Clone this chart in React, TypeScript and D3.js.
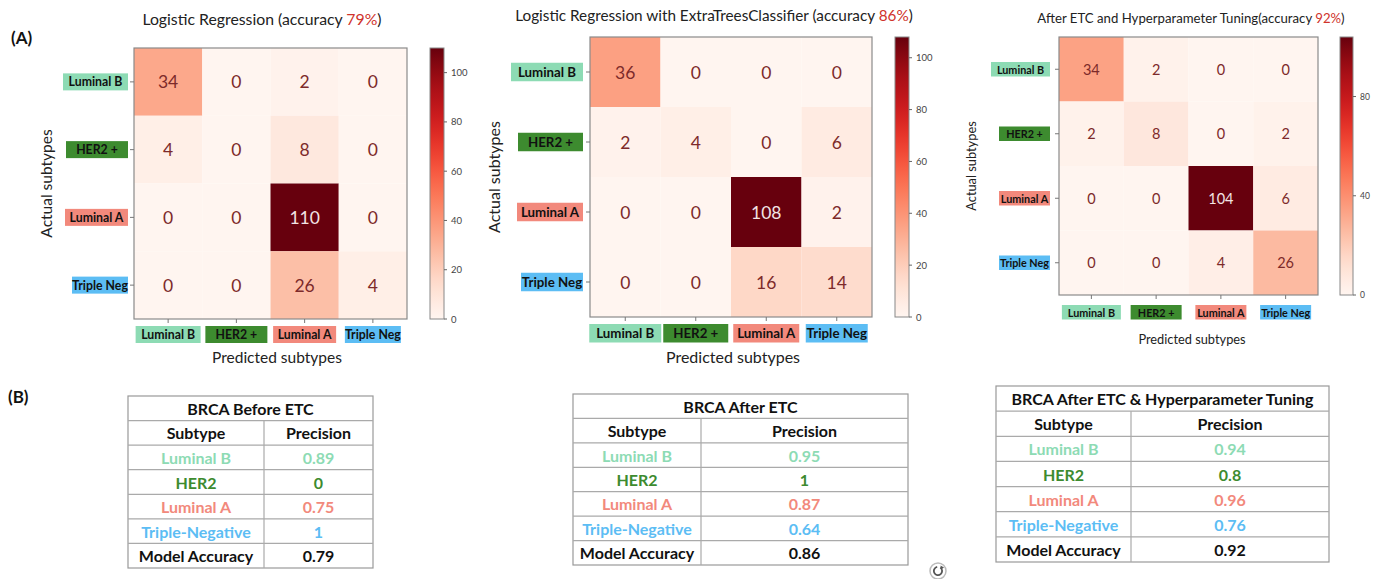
import React from "react";
import * as d3 from "d3";

// ---------- data ----------
const subtypes = ["Luminal B", "HER2 +", "Luminal A", "Triple Neg"];
const subtypeColors = ["#8ddbb4", "#3d8b2f", "#f2897c", "#5cbdf4"];

const matrixBefore = [
  [34, 0, 2, 0],
  [4, 0, 8, 0],
  [0, 0, 110, 0],
  [0, 0, 26, 4],
];
const matrixAfter = [
  [36, 0, 0, 0],
  [2, 4, 0, 6],
  [0, 0, 108, 2],
  [0, 0, 16, 14],
];
const matrixTuned = [
  [34, 2, 0, 0],
  [2, 8, 0, 2],
  [0, 0, 104, 6],
  [0, 0, 4, 26],
];

const titlePrefixes = [
  "Logistic Regression (accuracy ",
  "Logistic Regression with ExtraTreesClassifier (accuracy ",
  "After ETC and Hyperparameter Tuning(accuracy ",
];
const accuracyPercents = ["79%", "86%", "92%"];
const colorMaxima = [110, 108, 104];
const colorTicksBefore = [0, 20, 40, 60, 80, 100];
const colorTicksAfter = [0, 20, 40, 60, 80, 100];
const colorTicksTuned = [0, 40, 80];

const tableTitles = ["BRCA Before ETC", "BRCA After ETC", "BRCA After ETC & Hyperparameter Tuning"];
const tableHeaders = ["Subtype", "Precision"];
const tableSubtypes = ["Luminal B", "HER2", "Luminal A", "Triple-Negative"];
const precisionBefore = ["0.89", "0", "0.75", "1"];
const precisionAfter = ["0.95", "1", "0.87", "0.64"];
const precisionTuned = ["0.94", "0.8", "0.96", "0.76"];
const accuracyLabel = "Model Accuracy";
const modelAccuracy = ["0.79", "0.86", "0.92"];

// ---------- layout ----------
const FONT = "Lato, 'Open Sans', sans-serif";

const panels = [
  {
    matrix: matrixBefore, vmax: colorMaxima[0], ticks: colorTicksBefore,
    x: 134, y: 48, w: 273, h: 271, cbX: 430, cbW: 14,
    titleX: 262, titleY: 25, titleSize: 15.8,
    cellFont: 17.5, tickFont: 9.5,
    badgeW: [65, 62, 63, 56], badgeH: 17, badgeFont: 12.3,
    rowBadgeRight: 128, colBadgeTop: 326,
    xLabelX: 277, xLabelY: 363, yLabelX: 52, axisFont: 15.5,
  },
  {
    matrix: matrixAfter, vmax: colorMaxima[1], ticks: colorTicksAfter,
    x: 590, y: 37, w: 282, h: 280, cbX: 895, cbW: 14,
    titleX: 714, titleY: 21, titleSize: 15.3,
    cellFont: 17.5, tickFont: 9.5,
    badgeW: [72, 65, 66, 62], badgeH: 18.5, badgeFont: 13.3,
    rowBadgeRight: 583, colBadgeTop: 324,
    xLabelX: 733, xLabelY: 363, yLabelX: 500, axisFont: 16,
  },
  {
    matrix: matrixTuned, vmax: colorMaxima[2], ticks: colorTicksTuned,
    x: 1059, y: 37, w: 259, h: 258, cbX: 1340, cbW: 13,
    titleX: 1191, titleY: 23, titleSize: 13.2,
    cellFont: 14.5, tickFont: 8.5,
    badgeW: [59, 51, 51, 51], badgeH: 14.5, badgeFont: 10.8,
    rowBadgeRight: 1050, colBadgeTop: 305,
    xLabelX: 1192, xLabelY: 344, yLabelX: 976, axisFont: 12.8,
  },
];

const tables = [
  { left: 128, right: 373, divider: 264, top: 396, bottom: 568, font: 16, values: precisionBefore, acc: modelAccuracy[0], title: tableTitles[0] },
  { left: 573, right: 908, divider: 701, top: 394, bottom: 565, font: 16, values: precisionAfter, acc: modelAccuracy[1], title: tableTitles[1] },
  { left: 996, right: 1329, divider: 1131, top: 386, bottom: 562, font: 16, values: precisionTuned, acc: modelAccuracy[2], title: tableTitles[2] },
];

function Heatmap({ p, idx }: { p: any; idx: number }) {
  const xs = d3.scaleBand<number>().domain(d3.range(4)).range([p.x, p.x + p.w]);
  const ys = d3.scaleBand<number>().domain(d3.range(4)).range([p.y, p.y + p.h]);
  const color = d3.scaleSequential(d3.interpolateReds).domain([0, p.vmax]);
  const cbScale = d3.scaleLinear().domain([0, p.vmax]).range([p.y + p.h, p.y]);
  const gradId = `cbgrad${idx}`;
  const stops = d3.range(0, 1.0001, 0.05);
  return (
    <g>
      <defs>
        <linearGradient id={gradId} x1="0" y1="1" x2="0" y2="0">
          {stops.map((t) => (
            <stop key={t} offset={t} stopColor={d3.interpolateReds(t)} />
          ))}
        </linearGradient>
      </defs>
      <text x={p.titleX} y={p.titleY} textAnchor="middle" fontFamily={FONT} fontSize={p.titleSize} fill="#222">
        {titlePrefixes[idx]}
        <tspan fill="#d0332c">{accuracyPercents[idx]}</tspan>)
      </text>
      {p.matrix.map((row: number[], r: number) =>
        row.map((v: number, c: number) => (
          <g key={`${r}-${c}`}>
            <rect x={xs(c)} y={ys(r)} width={xs.bandwidth()} height={ys.bandwidth()} fill={color(v)} />
            <text
              x={(xs(c) as number) + xs.bandwidth() / 2}
              y={(ys(r) as number) + ys.bandwidth() / 2}
              textAnchor="middle"
              dominantBaseline="central"
              fontFamily={FONT}
              fontSize={p.cellFont}
              fill={v > p.vmax * 0.6 ? "#f3e4e4" : "#7d2a2a"}
            >
              {v}
            </text>
          </g>
        ))
      )}
      <rect x={p.x} y={p.y} width={p.w} height={p.h} fill="none" stroke="#8a8a8a" strokeWidth={1.2} />
      {subtypes.map((s, i) => {
        const cy = (ys(i) as number) + ys.bandwidth() / 2;
        const bw = p.badgeW[i];
        return (
          <g key={`row${i}`}>
            <line x1={p.x - 4} x2={p.x} y1={cy} y2={cy} stroke="#777" />
            <rect x={p.rowBadgeRight - bw} y={cy - p.badgeH / 2} width={bw} height={p.badgeH} fill={subtypeColors[i]} />
            <text x={p.rowBadgeRight - bw / 2} y={cy} textAnchor="middle" dominantBaseline="central" fontFamily={FONT} fontWeight="bold" fontSize={p.badgeFont} fill="#111">
              {s}
            </text>
          </g>
        );
      })}
      {subtypes.map((s, i) => {
        const cx = (xs(i) as number) + xs.bandwidth() / 2;
        const bw = p.badgeW[i];
        return (
          <g key={`col${i}`}>
            <line x1={cx} x2={cx} y1={p.y + p.h} y2={p.y + p.h + 4} stroke="#777" />
            <rect x={cx - bw / 2} y={p.colBadgeTop} width={bw} height={p.badgeH} fill={subtypeColors[i]} />
            <text x={cx} y={p.colBadgeTop + p.badgeH / 2} textAnchor="middle" dominantBaseline="central" fontFamily={FONT} fontWeight="bold" fontSize={p.badgeFont} fill="#111">
              {s}
            </text>
          </g>
        );
      })}
      <text x={p.xLabelX} y={p.xLabelY} textAnchor="middle" fontFamily={FONT} fontSize={p.axisFont} fill="#222">
        Predicted subtypes
      </text>
      <text
        transform={`translate(${p.yLabelX},${p.y + p.h / 2}) rotate(-90)`}
        textAnchor="middle"
        fontFamily={FONT}
        fontSize={p.axisFont}
        fill="#222"
      >
        Actual subtypes
      </text>
      <rect x={p.cbX} y={p.y} width={p.cbW} height={p.h} fill={`url(#${gradId})`} stroke="#888" strokeWidth={1} />
      {p.ticks.map((t: number) => (
        <g key={`t${t}`}>
          <line x1={p.cbX + p.cbW} x2={p.cbX + p.cbW + 3} y1={cbScale(t)} y2={cbScale(t)} stroke="#666" />
          <text x={p.cbX + p.cbW + 7} y={cbScale(t)} dominantBaseline="central" fontFamily={FONT} fontSize={p.tickFont} fill="#444">
            {t}
          </text>
        </g>
      ))}
    </g>
  );
}

function Table({ t }: { t: any }) {
  const rows = d3.scaleBand<number>().domain(d3.range(7)).range([t.top, t.bottom]);
  const c1 = (t.left + t.divider) / 2;
  const c2 = (t.divider + t.right) / 2;
  const rh = rows.bandwidth();
  const bodyRows = tableSubtypes.map((s, i) => ({ label: s, value: t.values[i], color: subtypeColors[i] }));
  const cy = (i: number) => (rows(i) as number) + rh / 2;
  const common = { fontFamily: FONT, fontWeight: "bold" as const, fontSize: t.font, dominantBaseline: "central" as const, textAnchor: "middle" as const };
  return (
    <g>
      <rect x={t.left} y={t.top} width={t.right - t.left} height={t.bottom - t.top} fill="#fff" stroke="#999" strokeWidth={1.2} />
      {d3.range(1, 7).map((i) => (
        <line key={i} x1={t.left} x2={t.right} y1={rows(i)} y2={rows(i)} stroke="#aaa" strokeWidth={1.2} />
      ))}
      <line x1={t.divider} x2={t.divider} y1={rows(1)} y2={t.bottom} stroke="#aaa" strokeWidth={1.2} />
      <text x={(t.left + t.right) / 2} y={cy(0)} {...common} fill="#111">{t.title}</text>
      <text x={c1} y={cy(1)} {...common} fill="#111">{tableHeaders[0]}</text>
      <text x={c2} y={cy(1)} {...common} fill="#111">{tableHeaders[1]}</text>
      {bodyRows.map((r, i) => (
        <g key={i}>
          <text x={c1} y={cy(i + 2)} {...common} fill={r.color}>{r.label}</text>
          <text x={c2} y={cy(i + 2)} {...common} fill={r.color}>{r.value}</text>
        </g>
      ))}
      <text x={c1} y={cy(6)} {...common} fill="#111">{accuracyLabel}</text>
      <text x={c2} y={cy(6)} {...common} fill="#111">{t.acc}</text>
    </g>
  );
}

export default function App() {
  return (
    <div style={{ position: "absolute", left: 0, top: 0 }}>
      <svg width={1379} height={579} style={{ display: "block", background: "#fff" }}>
        <text x={11} y={44} fontFamily={FONT} fontWeight="bold" fontSize={17} fill="#111">(A)</text>
        <text x={8} y={403} fontFamily={FONT} fontWeight="bold" fontSize={17} fill="#111">(B)</text>
        {panels.map((p, i) => (
          <Heatmap key={i} p={p} idx={i} />
        ))}
        {tables.map((t, i) => (
          <Table key={i} t={t} />
        ))}
        <g transform="translate(938,571)">
          <circle r={8} fill="none" stroke="#bbb" strokeWidth={1.5} />
          <path d={d3.arc()({ innerRadius: 3.2, outerRadius: 5, startAngle: 0.6, endAngle: 2 * Math.PI - 0.2 }) as string} fill="#555" />
          <path d="M2.5,-5.5 L6,-3.5 L3,-1.5 Z" fill="#555" />
        </g>
      </svg>
    </div>
  );
}
